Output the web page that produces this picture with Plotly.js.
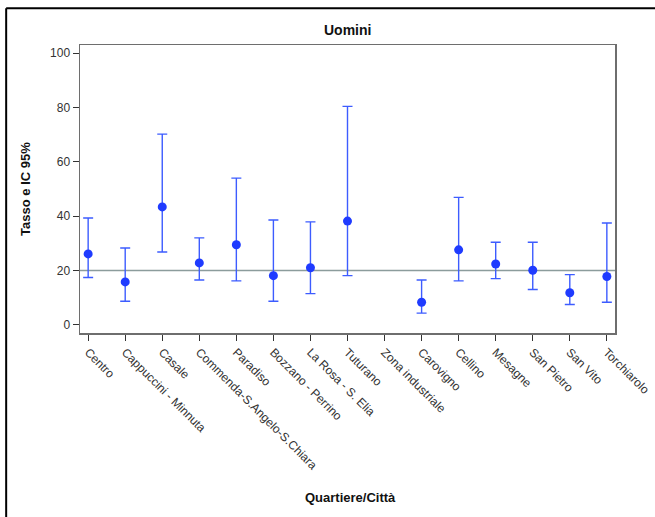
<!DOCTYPE html>
<html>
<head>
<meta charset="utf-8">
<script src="https://cdn.plot.ly/plotly-3.0.1.min.js"></script>
<style>
html,body{margin:0;padding:0;background:#fff;}
#chart{width:655px;height:517px;}
</style>
</head>
<body>
<div id="chart"></div>
<script>
var categories = ["Centro","Cappuccini - Minnuta","Casale","Commenda-S.Angelo-S.Chiara","Paradiso","Bozzano - Perrino","La Rosa - S. Elia","Tuturano","Zona industriale","Carovigno","Cellino","Mesagne","San Pietro","San Vito","Torchiarolo"];
var rate  = [26.1, 15.8, 43.4, 22.8, 29.5, 18.1, 21.0, 38.2, null, 8.3, 27.6, 22.4, 20.1, 11.8, 17.8];
var upper = [39.3, 28.3, 70.2, 32.0, 54.0, 38.6, 37.9, 80.4, null, 16.5, 46.9, 30.4, 30.4, 18.5, 37.5];
var lower = [17.4, 8.7, 26.8, 16.5, 16.2, 8.7, 11.5, 18.1, null, 4.3, 16.2, 17.0, 13.0, 7.5, 8.3];
var referenceRate = 20;
var yTicks = [0, 20, 40, 60, 80, 100];

var idx = categories.map(function(_, i){ return i; });
var errPlus = rate.map(function(v, i){ return v === null ? null : upper[i] - v; });
var errMinus = rate.map(function(v, i){ return v === null ? null : v - lower[i]; });

var trace = {
  type: 'scatter',
  mode: 'markers',
  x: idx,
  y: rate,
  marker: {color: '#1f3bff', size: 9},
  error_y: {
    type: 'data', symmetric: false,
    array: errPlus, arrayminus: errMinus,
    color: '#3d5cff', thickness: 1.4, width: 5
  },
  cliponaxis: false,
  hoverinfo: 'skip'
};

var refLine = {
  type: 'scatter', mode: 'lines',
  x: [-0.22, 14.22], y: [referenceRate, referenceRate],
  line: {color: '#8c9c9c', width: 1.5},
  hoverinfo: 'skip'
};

var font = {family: 'Liberation Sans, Arial, sans-serif', color: '#222', size: 12};

var layout = {
  width: 655, height: 517,
  margin: {l: 80, r: 40, t: 45, b: 184},
  paper_bgcolor: '#fff', plot_bgcolor: '#fff',
  showlegend: false,
  font: font,
  xaxis: {
    range: [-0.22, 14.22],
    tickmode: 'array', tickvals: idx, ticktext: categories,
    tickangle: 45,
    ticks: 'outside', ticklen: 6, tickcolor: '#333', tickwidth: 1,
    showgrid: false, zeroline: false,
    showline: true, linecolor: '#6e6e6e', linewidth: 1.5, mirror: true,
    tickfont: {family: font.family, size: 12, color: '#333'}
  },
  yaxis: {
    range: [-3, 103],
    tickmode: 'array', tickvals: yTicks,
    ticks: 'outside', ticklen: 6, tickcolor: '#333', tickwidth: 1,
    showgrid: false, zeroline: false,
    showline: true, linecolor: '#6e6e6e', linewidth: 1.5, mirror: true,
    tickfont: {family: font.family, size: 12, color: '#333'}
  },
  shapes: [
    {type: 'line', xref: 'paper', yref: 'paper', x0: -0.138, x1: 1.08, y0: 1.128, y1: 1.128, line: {color: '#000', width: 2}},
    {type: 'line', xref: 'paper', yref: 'paper', x0: -0.138, x1: -0.138, y0: 1.128, y1: -0.66, line: {color: '#000', width: 2}}
  ],
  annotations: [
    {text: '<b>Uomini</b>', xref: 'paper', yref: 'paper', x: 0.5, y: 1.052, xanchor: 'center', yanchor: 'middle', showarrow: false, font: {family: font.family, size: 14, color: '#111'}},
    {text: '<b>Tasso e IC 95%</b>', xref: 'paper', yref: 'paper', x: -0.103, y: 0.5, xanchor: 'center', yanchor: 'middle', textangle: -90, showarrow: false, font: {family: font.family, size: 13, color: '#111'}},
    {text: '<b>Quartiere/Città</b>', xref: 'paper', yref: 'paper', x: 0.505, y: -0.57, xanchor: 'center', yanchor: 'middle', showarrow: false, font: {family: font.family, size: 13, color: '#111'}}
  ]
};

Plotly.newPlot('chart', [refLine, trace], layout, {displayModeBar: false, staticPlot: true});
</script>
</body>
</html>
